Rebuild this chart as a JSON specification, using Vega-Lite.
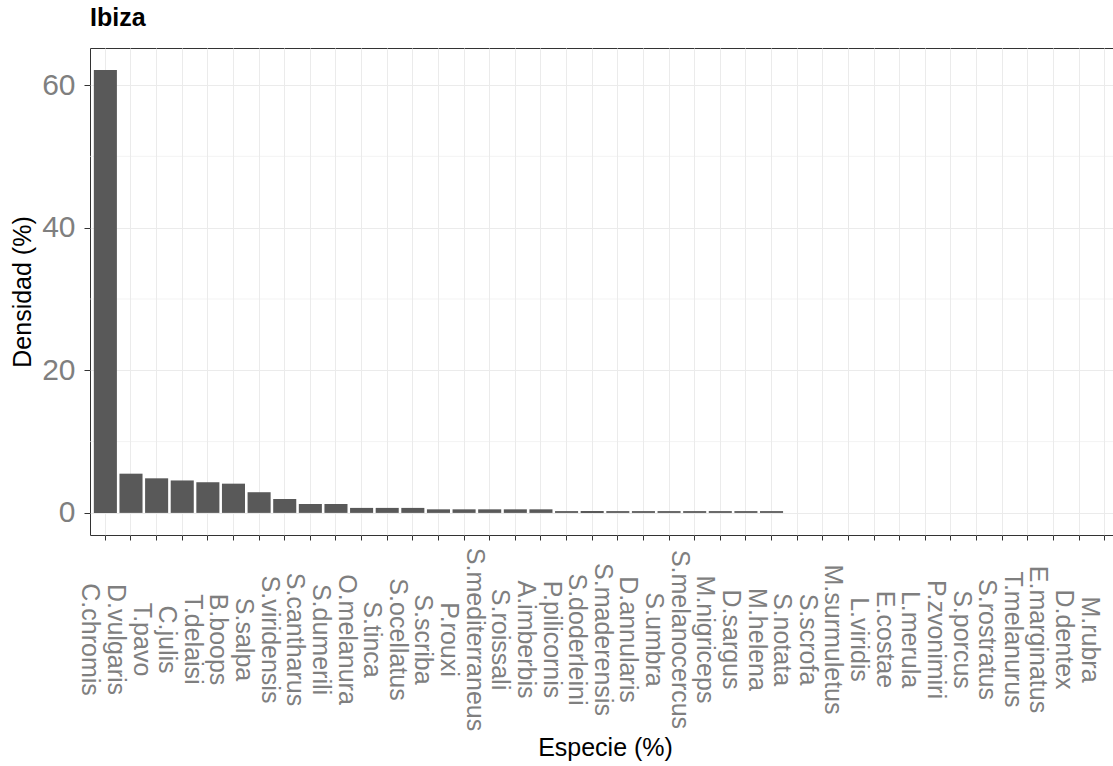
{
  "$schema": "https://vega.github.io/schema/vega-lite/v6.json",
  "width": 1030,
  "height": 487,
  "autosize": {"type": "none"},
  "padding": {"left": 90, "top": 48, "right": 0, "bottom": 231},
  "background": "white",
  "title": {
    "text": "Ibiza",
    "anchor": "start",
    "frame": "group",
    "baseline": "bottom",
    "offset": 15,
    "dy": 23,
    "fontSize": 25,
    "fontWeight": "bold",
    "color": "#000000",
    "font": "Liberation Sans"
  },
  "config": {
    "font": "Liberation Sans",
    "view": {"stroke": "#333333", "strokeWidth": 1}
  },
  "datasets": {
    "especies": [
      {"especie": "C.chromis", "densidad": 62.1},
      {"especie": "D.vulgaris", "densidad": 5.5},
      {"especie": "T.pavo", "densidad": 4.85},
      {"especie": "C.julis", "densidad": 4.55},
      {"especie": "T.delaisi", "densidad": 4.3},
      {"especie": "B.boops", "densidad": 4.1},
      {"especie": "S.salpa", "densidad": 2.9},
      {"especie": "S.viridensis", "densidad": 1.95},
      {"especie": "S.cantharus", "densidad": 1.25},
      {"especie": "S.dumerili", "densidad": 1.25},
      {"especie": "O.melanura", "densidad": 0.7},
      {"especie": "S.tinca", "densidad": 0.7},
      {"especie": "S.ocellatus", "densidad": 0.7},
      {"especie": "S.scriba", "densidad": 0.5},
      {"especie": "P.rouxi", "densidad": 0.5},
      {"especie": "S.mediterraneus", "densidad": 0.5},
      {"especie": "S.roissali", "densidad": 0.5},
      {"especie": "A.imberbis", "densidad": 0.5},
      {"especie": "P.pilicornis", "densidad": 0.25},
      {"especie": "S.doderleini", "densidad": 0.25},
      {"especie": "S.maderensis", "densidad": 0.25},
      {"especie": "D.annularis", "densidad": 0.25},
      {"especie": "S.umbra", "densidad": 0.25},
      {"especie": "S.melanocercus", "densidad": 0.25},
      {"especie": "M.nigriceps", "densidad": 0.25},
      {"especie": "D.sargus", "densidad": 0.25},
      {"especie": "M.helena", "densidad": 0.25},
      {"especie": "S.notata", "densidad": 0},
      {"especie": "S.scrofa", "densidad": 0},
      {"especie": "M.surmuletus", "densidad": 0},
      {"especie": "L.viridis", "densidad": 0},
      {"especie": "E.costae", "densidad": 0},
      {"especie": "L.merula", "densidad": 0},
      {"especie": "P.zvonimiri", "densidad": 0},
      {"especie": "S.porcus", "densidad": 0},
      {"especie": "S.rostratus", "densidad": 0},
      {"especie": "T.melanurus", "densidad": 0},
      {"especie": "E.marginatus", "densidad": 0},
      {"especie": "D.dentex", "densidad": 0},
      {"especie": "M.rubra", "densidad": 0}
    ],
    "minorGrid": [
      {"nivel": 10},
      {"nivel": 30},
      {"nivel": 50}
    ]
  },
  "layer": [
    {
      "data": {"name": "minorGrid"},
      "mark": {"type": "rule", "stroke": "#EBEBEB", "strokeWidth": 0.6},
      "encoding": {
        "y": {
          "field": "nivel",
          "type": "quantitative",
          "scale": {"domain": [-3.1, 65.2], "nice": false, "zero": false},
          "axis": {
            "title": "Densidad (%)",
            "titleFontSize": 25,
            "titleFontWeight": "normal",
            "titleColor": "#000000",
            "titlePadding": 6,
            "values": [0, 20, 40, 60],
            "labelFontSize": 30,
            "labelColor": "#7F7F7F",
            "labelPadding": 9,
            "tickSize": 6,
            "tickColor": "#333333",
            "tickWidth": 1,
            "grid": true,
            "gridColor": "#EBEBEB",
            "gridWidth": 1,
            "domain": false
          }
        }
      }
    },
    {
      "data": {"name": "especies"},
      "mark": {"type": "bar", "fill": "#595959"},
      "encoding": {
        "x": {
          "field": "especie",
          "type": "nominal",
          "sort": null,
          "scale": {"paddingInner": 0.1, "paddingOuter": 0.15},
          "axis": {
            "title": "Especie (%)",
            "titleFontSize": 25,
            "titleFontWeight": "normal",
            "titleColor": "#000000",
            "titlePadding": 5,
            "labelAngle": 90,
            "labelAlign": "center",
            "labelBaseline": "top",
            "labelOffset": -3,
            "labelPadding": 99,
            "labelFontSize": 25,
            "labelColor": "#7F7F7F",
            "labelOverlap": false,
            "labelLimit": 0,
            "tickSize": 5,
            "tickColor": "#333333",
            "tickWidth": 1,
            "bandPosition": 0.5,
            "grid": true,
            "gridColor": "#EBEBEB",
            "gridWidth": 1,
            "domain": false
          }
        },
        "y": {
          "field": "densidad",
          "type": "quantitative",
          "scale": {"domain": [-3.1, 65.2], "nice": false, "zero": false},
          "axis": {
            "title": "Densidad (%)",
            "titleFontSize": 25,
            "titleFontWeight": "normal",
            "titleColor": "#000000",
            "titlePadding": 6,
            "values": [0, 20, 40, 60],
            "labelFontSize": 30,
            "labelColor": "#7F7F7F",
            "labelPadding": 9,
            "tickSize": 6,
            "tickColor": "#333333",
            "tickWidth": 1,
            "grid": true,
            "gridColor": "#EBEBEB",
            "gridWidth": 1,
            "domain": false
          }
        }
      }
    }
  ]
}
